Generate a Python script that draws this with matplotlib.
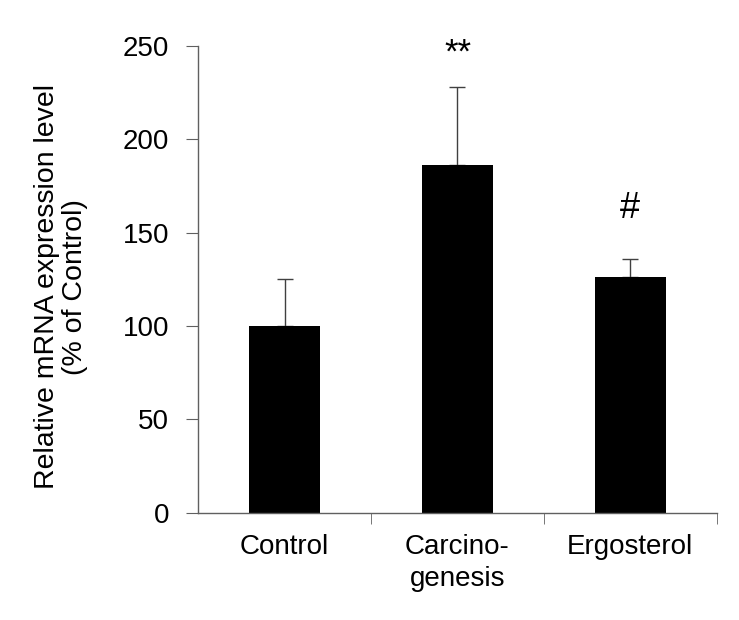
import matplotlib

matplotlib.use("Agg")
import matplotlib.pyplot as plt
import numpy as np

categories = ["Control", "Carcino-\ngenesis", "Ergosterol"]
means = [100, 186, 126]
errors_up = [25, 42, 10]
marks = ["", "**", "#"]
mark_heights = [0, 246, 163]
yticks = [0, 50, 100, 150, 200, 250]

plt.rcParams["font.family"] = ["Liberation Sans", "DejaVu Sans"]

fig = plt.figure(figsize=(7.39, 6.2), dpi=100)
ax = fig.add_axes([0.268, 0.173, 0.702, 0.753])

x = np.arange(len(categories))
ax.bar(x, means, width=0.41, color="black", zorder=2)
ax.errorbar(
    x,
    means,
    yerr=[np.zeros(len(means)), errors_up],
    fmt="none",
    ecolor="#404040",
    elinewidth=1.0,
    capsize=5.5,
    capthick=1.0,
    zorder=1,
)

# significance marks above the bars
for xi, mark, h in zip(x, marks, mark_heights):
    if mark:
        ax.text(xi, h, mark, ha="center", va="center",
                fontsize=26 if mark == "#" else 25)

ax.set_xlim(-0.5, len(categories) - 0.5)
ax.set_ylim(0, 250)
ax.set_yticks(yticks)
ax.set_xticks(x)
ax.set_xticklabels(categories, fontsize=20, linespacing=1.32)
ax.set_xticks(np.arange(len(categories)) + 0.5, minor=True)
ax.tick_params(axis="x", which="major", length=0, pad=15)
ax.tick_params(axis="x", which="minor", length=8, direction="out", color="#606060")
ax.tick_params(axis="y", labelsize=20, length=9, direction="out", color="#606060", pad=12)

for side in ["top", "right"]:
    ax.spines[side].set_visible(False)
for side in ["left", "bottom"]:
    ax.spines[side].set_color("#606060")
    ax.spines[side].set_linewidth(1.0)

ax.set_ylabel("Relative mRNA expression level\n(% of Control)", fontsize=20.5,
              linespacing=1.1)
ax.yaxis.set_label_coords(-0.212, 0.484)

fig.savefig("out.png", dpi=100)
